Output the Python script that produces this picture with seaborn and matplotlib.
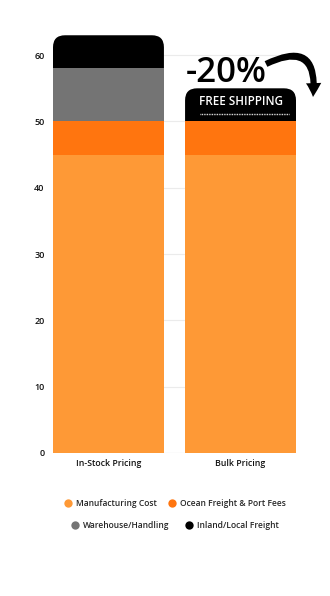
import matplotlib
matplotlib.use("Agg")
import matplotlib.pyplot as plt
from matplotlib.patches import FancyBboxPatch, FancyArrowPatch
from matplotlib.lines import Line2D
import seaborn as sns
import pandas as pd

# Cost breakdown per pricing option
categories = ["In-Stock Pricing", "Bulk Pricing"]
manufacturing = [45, 45]
ocean_freight = [5, 5]
warehouse = [8, 0]
inland_freight = [5, 5]

layer_names = ["Manufacturing Cost", "Ocean Freight & Port Fees",
               "Warehouse/Handling", "Inland/Local Freight"]
layer_colors = ["#FE9936", "#FF750F", "#747474", "#000000"]
y_ticks = [0, 10, 20, 30, 40, 50, 60]

sns.set_theme(style="white")
plt.rcParams["font.family"] = ["Open Sans", "DejaVu Sans"]

# cumulative tops, so overlapping bars read as a stack
layers = [manufacturing, ocean_freight, warehouse, inland_freight]
cum = []
running = [0] * len(categories)
for vals in layers:
    running = [r + v for r, v in zip(running, vals)]
    cum.append(list(running))

fig = plt.figure(figsize=(3.30, 5.96), dpi=100)
ax = fig.add_axes([53 / 330, 1 - 453 / 596, (296 - 53) / 330, (453 - 22) / 596])

# draw from the tallest layer down so lower layers cover upper ones
for i in range(len(layers) - 1, -1, -1):
    df = pd.DataFrame({"category": categories, "value": cum[i]})
    sns.barplot(data=df, x="category", y="value", color=layer_colors[i],
                width=0.84, saturation=1, ax=ax, edgecolor="none", linewidth=0,
                zorder=2 + (len(layers) - i) * 0.1)

ax.set_xlim(-0.42, 1.42)
ax.set_ylim(0, 65)

# replace the topmost layer with rounded-top bars
n = len(categories)
top_patches = ax.patches[:n]
x_px = (296 - 53) / 1.84
y_px = (453 - 22) / 65
aspect = x_px / y_px
for p in top_patches:
    p.set_visible(False)
    r = 12 / x_px
    rb = FancyBboxPatch((p.get_x(), p.get_y()), p.get_width(), p.get_height(),
                        boxstyle=f"round,pad=0,rounding_size={r}",
                        mutation_aspect=aspect, facecolor=layer_colors[-1],
                        edgecolor="none", linewidth=0, zorder=2)
    ax.add_patch(rb)

ax.set_yticks(y_ticks)
ax.set_yticklabels([str(t) for t in y_ticks])
ax.yaxis.grid(True, color="#EBEBEB", linewidth=0.8, zorder=0)
ax.set_axisbelow(True)
for s in ax.spines.values():
    s.set_visible(False)
ax.set_xlabel("")
ax.set_ylabel("")
ax.tick_params(axis="y", length=0, pad=6, labelsize=6.5, labelcolor="#111111")
ax.tick_params(axis="x", length=0, pad=4, labelsize=6.3, labelcolor="#111111")
for lbl in ax.get_xticklabels() + ax.get_yticklabels():
    lbl.set_fontweight("semibold")
ax.axhline(0, color="#E5E5E5", linewidth=0.8, zorder=1)

# Bulk bar annotations
bulk_top = cum[-1][1]
ax.text(1, cum[1][1] + (bulk_top - cum[1][1]) * 0.6, "FREE SHIPPING",
        ha="center", va="center", color="white", fontsize=8.4,
        fontweight="semibold", zorder=5)
ax.plot([0.695, 1.365], [cum[1][1] + 1.2] * 2, color="white", linewidth=1.0,
        linestyle=(0, (0.6, 0.6)), zorder=5)
ax.text(0.895, bulk_top + 0.95, "-20%", ha="center", va="baseline",
        fontsize=25, fontweight="semibold", color="black", zorder=5)

arrow = FancyArrowPatch((266 / 330, 1 - 64 / 596), (313 / 330, 1 - 97 / 596),
                        transform=fig.transFigure,
                        connectionstyle="arc3,rad=-0.9",
                        arrowstyle="simple,head_width=11,head_length=10,tail_width=4.5",
                        color="black", linewidth=0, zorder=6,
                        shrinkA=0, shrinkB=0)
fig.patches.append(arrow)

# Legend in two centred rows
def handle(c):
    return Line2D([], [], marker="o", linestyle="none", markersize=6,
                  markerfacecolor=c, markeredgecolor="none")

leg_font = {"size": 6.1, "weight": "semibold"}
leg1 = fig.legend([handle(layer_colors[0]), handle(layer_colors[1])],
                  layer_names[:2], loc="center", ncol=2,
                  bbox_to_anchor=(0.53, 1 - 503 / 596), frameon=False,
                  prop=leg_font, handletextpad=0.5, columnspacing=1.4,
                  handlelength=0.9)
leg2 = fig.legend([handle(layer_colors[2]), handle(layer_colors[3])],
                  layer_names[2:], loc="center", ncol=2,
                  bbox_to_anchor=(0.53, 1 - 525 / 596), frameon=False,
                  prop=leg_font, handletextpad=0.5, columnspacing=1.9,
                  handlelength=0.9)

fig.savefig("out.png", dpi=100, facecolor="white")
